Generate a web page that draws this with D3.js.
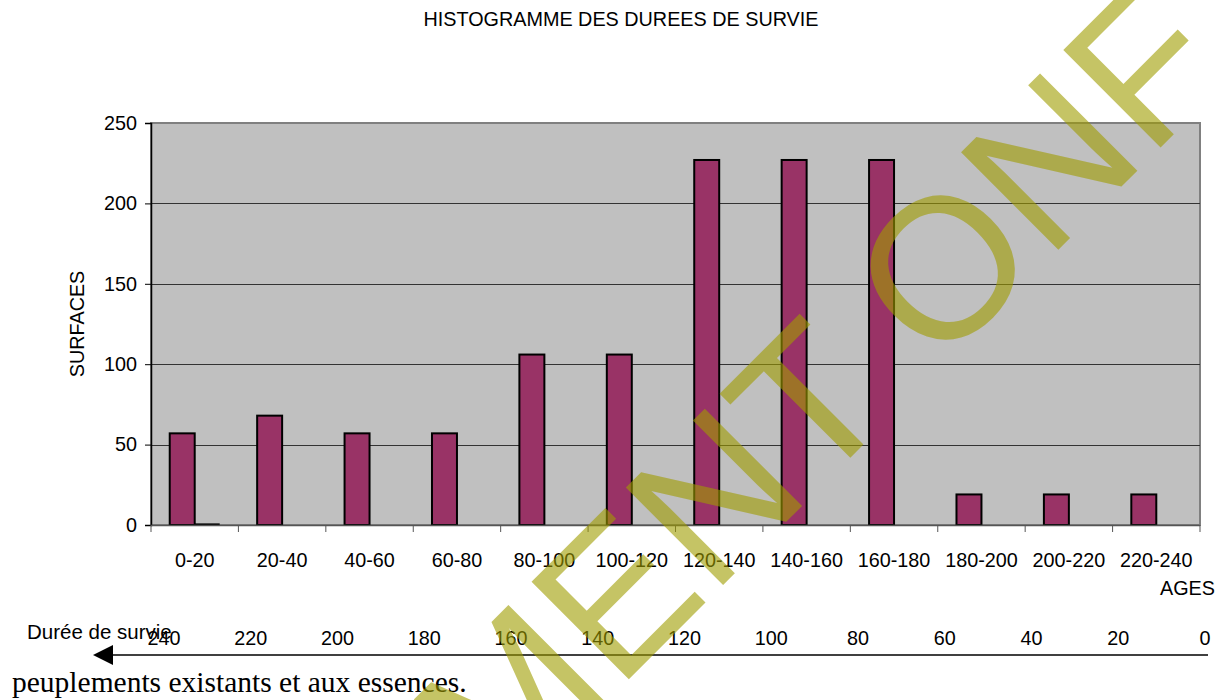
<!DOCTYPE html>
<html><head><meta charset="UTF-8">
<script src="https://d3js.org/d3.v7.min.js"></script>
<style>
body{margin:0;background:#fff;overflow:hidden}
text{font-family:Arial,"Liberation Sans",sans-serif;fill:#000}
</style></head><body><div id="chart"></div><script>
const categories = ['0-20','20-40','40-60','60-80','80-100','100-120','120-140','140-160','160-180','180-200','200-220','220-240'];
const surfaces = [57, 68, 57, 57, 106, 106, 227, 227, 227, 19, 19, 19];
const serie2 = [1, 0, 0, 0, 0, 0, 0, 0, 0, 0, 0, 0];
const yTicks = [0, 50, 100, 150, 200, 250];
const survie = [240, 220, 200, 180, 160, 140, 120, 100, 80, 60, 40, 20, 0];

const W = 1224, H = 700;
const plot = {left: 151, right: 1200, top: 123, bottom: 525};

const svg = d3.select('#chart').append('svg').attr('width', W).attr('height', H);

const x = d3.scaleBand().domain(categories).range([plot.left, plot.right]).padding(0);
const y = d3.scaleLinear().domain([0, 250]).range([plot.bottom, plot.top]);

// excel style: gap width 150% between groups of 2 bars
const bw = x.bandwidth() / 3.5;
const off = bw * 0.75;

svg.append('text').attr('x', 621).attr('y', 26).attr('text-anchor', 'middle')
  .style('font-size', '19.8px').text('HISTOGRAMME DES DUREES DE SURVIE');

svg.append('rect').attr('x', plot.left).attr('y', plot.top)
  .attr('width', plot.right - plot.left).attr('height', plot.bottom - plot.top)
  .attr('fill', '#c0c0c0').attr('stroke', '#808080').attr('stroke-width', 2);

// grid
svg.append('g').selectAll('line').data(yTicks.filter(d => d > 0 && d < 250)).join('line')
  .attr('x1', plot.left).attr('x2', plot.right)
  .attr('y1', d => Math.round(y(d)) + 0.5).attr('y2', d => Math.round(y(d)) + 0.5)
  .attr('stroke', '#333').attr('stroke-width', 1);

// bars
svg.append('g').selectAll('rect').data(surfaces).join('rect')
  .attr('x', (d, i) => x(categories[i]) + off)
  .attr('y', d => y(d))
  .attr('width', bw)
  .attr('height', d => y(0) - y(d))
  .attr('fill', '#993366').attr('stroke', '#000').attr('stroke-width', 2);

svg.append('g').selectAll('rect').data(serie2.map((v, i) => ({v, i})).filter(d => d.v > 0)).join('rect')
  .attr('x', d => x(categories[d.i]) + off + bw)
  .attr('y', d => y(d.v))
  .attr('width', bw)
  .attr('height', d => y(0) - y(d.v))
  .attr('fill', '#000');

// axes
const yAxis = d3.axisLeft(y).tickValues(yTicks).tickSize(6).tickPadding(8);
const gy = svg.append('g').attr('transform', `translate(${plot.left},0)`).call(yAxis);
gy.select('.domain').attr('stroke', '#000').attr('stroke-width', 1.5);
gy.selectAll('.tick line').attr('stroke', '#000');
gy.selectAll('text').style('font-size', '19.8px').attr('font-family', null);

const xb = svg.append('g');
xb.append('line').attr('x1', plot.left).attr('x2', plot.right)
  .attr('y1', plot.bottom + 0.5).attr('y2', plot.bottom + 0.5).attr('stroke', '#555').attr('stroke-width', 1.5);
xb.selectAll('.tk').data(categories.concat(['end'])).join('line').attr('class', 'tk')
  .attr('x1', (d, i) => plot.left + i * x.bandwidth()).attr('x2', (d, i) => plot.left + i * x.bandwidth())
  .attr('y1', plot.bottom).attr('y2', plot.bottom + 7).attr('stroke', '#555');
xb.selectAll('text').data(categories).join('text')
  .attr('x', d => x(d) + x.bandwidth() / 2).attr('y', 567).attr('text-anchor', 'middle')
  .style('font-size', '19.8px').text(d => d);

svg.append('text').attr('x', 1215).attr('y', 595).attr('text-anchor', 'end')
  .style('font-size', '19.8px').text('AGES');

svg.append('text').attr('transform', 'translate(84,324) rotate(-90)').attr('text-anchor', 'middle')
  .style('font-size', '19.8px').text('SURFACES');

// duree de survie arrow
const xs = d3.scaleLinear().domain([240, 0]).range([164, 1205]);
svg.append('line').attr('x1', 105).attr('x2', 1208).attr('y1', 655).attr('y2', 655)
  .attr('stroke', '#000').attr('stroke-width', 1.5);
svg.append('path').attr('d', 'M93,655 L113,645 L113,665 Z').attr('fill', '#000');
svg.append('g').selectAll('text').data(survie).join('text')
  .attr('x', d => xs(d)).attr('y', 645).attr('text-anchor', 'middle')
  .style('font-size', '19.8px').text(d => d);
svg.append('text').attr('x', 27).attr('y', 639).style('font-size', '20.5px').text('Durée de survie');

svg.append('text').attr('x', 12).attr('y', 692)
  .style('font-family', '"Times New Roman","Liberation Serif",serif').style('font-size', '29.5px')
  .text('peuplements existants et aux essences.');

// watermark
svg.append('text').attr('transform', 'translate(83,1225) rotate(-45)')
  .style('font-size', '200px').style('fill', 'rgb(160,157,0)')
  .attr('opacity', 0.6).text('DOCUMENT ONF');
</script></body></html>
